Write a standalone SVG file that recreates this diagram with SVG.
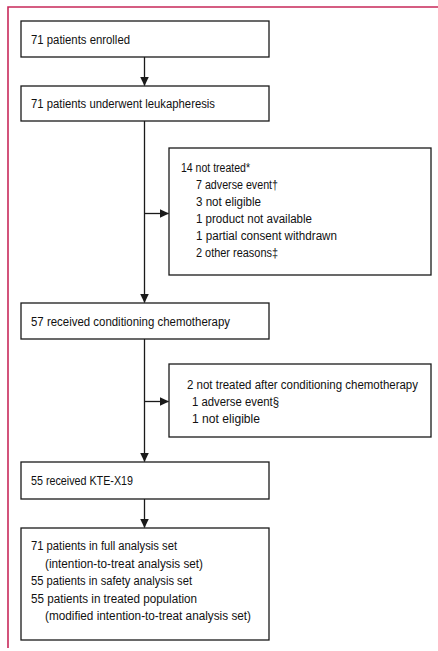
<svg xmlns="http://www.w3.org/2000/svg" width="438" height="651" viewBox="0 0 438 651">
<style>
.box{fill:#fff;stroke:#1a1a1a;stroke-width:1.3}
.t{font-family:"Liberation Sans",Arial,sans-serif;font-size:12.3px;fill:#111}
.c{stroke:#1a1a1a;stroke-width:1.3;fill:none}
.frame{stroke:#c8285a;stroke-width:1.6;fill:none}
</style>
<defs>
<marker id="ah" markerWidth="10" markerHeight="10" refX="9" refY="5" orient="auto" markerUnits="userSpaceOnUse">
<path d="M0,0.5 L9.5,5 L0,9.5 Z" fill="#1a1a1a"/>
</marker>
</defs>
<polyline class="frame" points="8,648 8,7 438,7"/>
<g id="connectors">
<line class="c" x1="144.5" y1="57" x2="144.5" y2="85.5" marker-end="url(#ah)"/>
<line class="c" x1="144.5" y1="121" x2="144.5" y2="302.5" marker-end="url(#ah)"/>
<line class="c" x1="144.5" y1="213.5" x2="168.5" y2="213.5" marker-end="url(#ah)"/>
<line class="c" x1="144.5" y1="339" x2="144.5" y2="461.5" marker-end="url(#ah)"/>
<line class="c" x1="144.5" y1="401.5" x2="168.5" y2="401.5" marker-end="url(#ah)"/>
<line class="c" x1="144.5" y1="499" x2="144.5" y2="527.5" marker-end="url(#ah)"/>
</g>
<g id="enrolled">
<rect class="box" x="21" y="21" width="248" height="36"/>
<text class="t" x="31" y="43.5" textLength="99" lengthAdjust="spacingAndGlyphs">71 patients enrolled</text>
</g>
<g id="leukapheresis">
<rect class="box" x="21" y="86" width="248" height="35"/>
<text class="t" x="31" y="108" textLength="184" lengthAdjust="spacingAndGlyphs">71 patients underwent leukapheresis</text>
</g>
<g id="not-treated">
<rect class="box" x="169" y="148" width="262" height="127"/>
<text class="t" x="181" y="172" textLength="69" lengthAdjust="spacingAndGlyphs">14 not treated*</text>
<text class="t" x="196" y="189" textLength="82" lengthAdjust="spacingAndGlyphs">7 adverse event†</text>
<text class="t" x="196" y="206" textLength="65" lengthAdjust="spacingAndGlyphs">3 not eligible</text>
<text class="t" x="196" y="223" textLength="116" lengthAdjust="spacingAndGlyphs">1 product not available</text>
<text class="t" x="196" y="240" textLength="141" lengthAdjust="spacingAndGlyphs">1 partial consent withdrawn</text>
<text class="t" x="196" y="257" textLength="82" lengthAdjust="spacingAndGlyphs">2 other reasons‡</text>
</g>
<g id="conditioning">
<rect class="box" x="21" y="303" width="248" height="36"/>
<text class="t" x="31" y="325.5" textLength="199" lengthAdjust="spacingAndGlyphs">57 received conditioning chemotherapy</text>
</g>
<g id="not-treated-after">
<rect class="box" x="169" y="364" width="262" height="73"/>
<text class="t" x="187" y="389" textLength="231" lengthAdjust="spacingAndGlyphs">2 not treated after conditioning chemotherapy</text>
<text class="t" x="192" y="406" textLength="87" lengthAdjust="spacingAndGlyphs">1 adverse event§</text>
<text class="t" x="192" y="423" textLength="68" lengthAdjust="spacingAndGlyphs">1 not eligible</text>
</g>
<g id="kte">
<rect class="box" x="21" y="462" width="248" height="37"/>
<text class="t" x="31" y="485" textLength="102" lengthAdjust="spacingAndGlyphs">55 received KTE-X19</text>
</g>
<g id="analysis">
<rect class="box" x="21" y="528" width="248" height="112"/>
<text class="t" x="31" y="550" textLength="146" lengthAdjust="spacingAndGlyphs">71 patients in full analysis set</text>
<text class="t" x="45" y="567.5" textLength="158" lengthAdjust="spacingAndGlyphs">(intention-to-treat analysis set)</text>
<text class="t" x="31" y="585" textLength="161" lengthAdjust="spacingAndGlyphs">55 patients in safety analysis set</text>
<text class="t" x="31" y="602.5" textLength="166" lengthAdjust="spacingAndGlyphs">55 patients in treated population</text>
<text class="t" x="45" y="620" textLength="206" lengthAdjust="spacingAndGlyphs">(modified intention-to-treat analysis set)</text>
</g>
</svg>
